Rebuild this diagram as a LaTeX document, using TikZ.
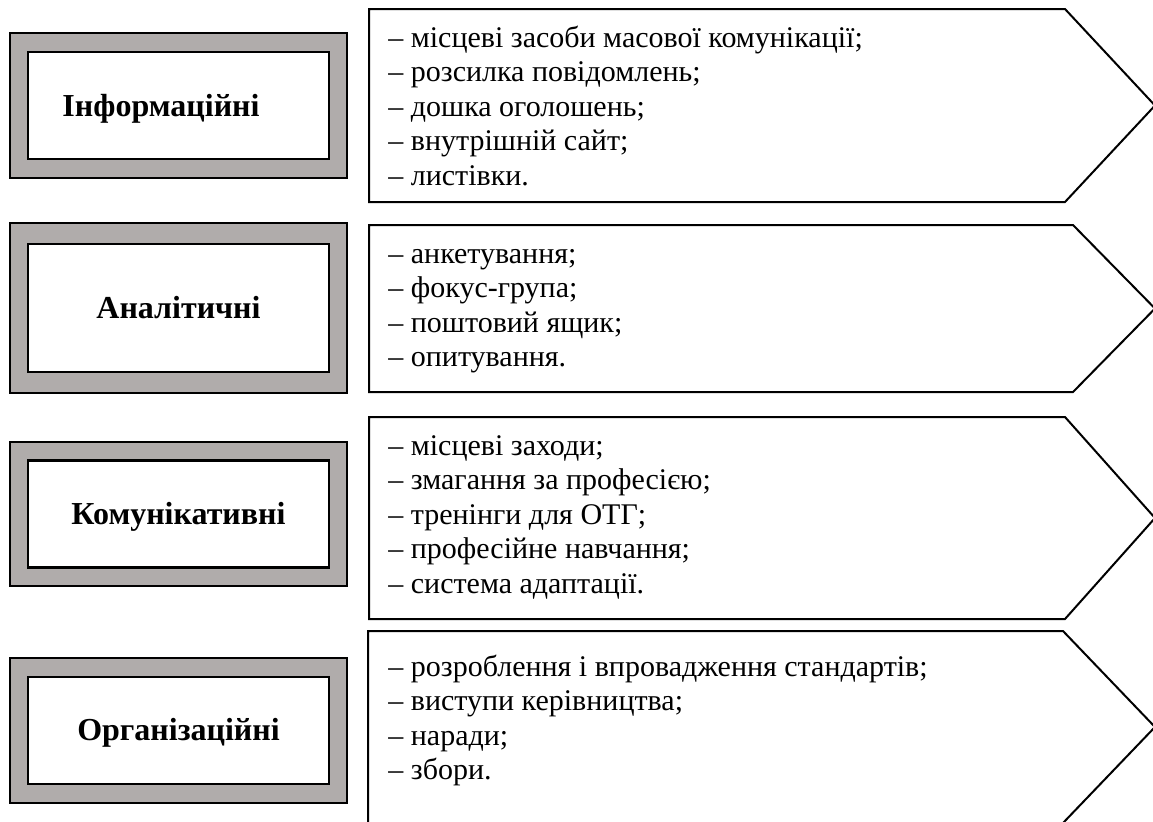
\documentclass[tikz,border=0pt]{standalone}
\usepackage{fontspec}
\setmainfont{Liberation Serif}
\definecolor{framegray}{RGB}{176,172,171}

\begin{document}
\begin{tikzpicture}[x=0.5pt, y=-0.5pt,
    outerbox/.style={draw, line width=1.2pt, fill=framegray, inner sep=0pt, minimum width=168.5pt, minimum height=72.5pt},
    innerbox/.style={draw, line width=1.2pt, fill=white, inner sep=0pt, minimum width=150.5pt, minimum height=53.5pt},
    title/.style={font=\fontsize{16}{19}\selectfont\bfseries, inner sep=0pt, anchor=base},
    item/.style={font=\fontsize{15}{18}\selectfont, inner sep=0pt, anchor=base west},
    pointer/.style={draw, line width=1pt, line join=miter}]
  \useasboundingbox (0,0) rectangle (1153,821);

  % Інформаційні
  \node[outerbox] (info) at (178.5,105.5) {};
  \node[innerbox] (infoin) at (info.center) {};
  \node[title] (infot) at (161,116) {Інформаційні};
  \draw[pointer] (369,9) -- (1065,9) -- (1155,105.5) -- (1065,202) -- (369,202) -- cycle;
  \foreach \t [count=\i from 0] in {– місцеві засоби масової комунікації;, – розсилка повідомлень;, – дошка оголошень;, – внутрішній сайт;, – листівки.}
    \node[item] (infoitem\i) at (388,{47+34.5*\i}) {\t};

  % Аналітичні
  \node[outerbox, minimum height=85pt] (anal) at (178.5,308) {};
  \node[innerbox, minimum height=64pt] (analin) at (anal.center) {};
  \node[title] (analt) at (178.5,318.5) {Аналітичні};
  \draw[pointer] (369,225) -- (1073,225) -- (1155,308.5) -- (1073,392) -- (369,392) -- cycle;
  \foreach \t [count=\i from 0] in {– анкетування;, – фокус-група;, – поштовий ящик;, – опитування.}
    \node[item] (analitem\i) at (388,{263+34.5*\i}) {\t};

  % Комунікативні
  \node[outerbox, minimum height=72pt] (comm) at (178.5,514) {};
  \node[innerbox] (commin) at (comm.center) {};
  \node[title] (commt) at (178.5,524.5) {Комунікативні};
  \draw[pointer] (369,417) -- (1065,417) -- (1155,518) -- (1065,619) -- (369,619) -- cycle;
  \foreach \t [count=\i from 0] in {– місцеві заходи;, – змагання за професією;, – тренінги для ОТГ;, – професійне навчання;, – система адаптації.}
    \node[item] (commitem\i) at (388,{455+34.5*\i}) {\t};

  % Організаційні
  \node[outerbox] (org) at (178.5,730.5) {};
  \node[innerbox] (orgin) at (org.center) {};
  \node[title] (orgt) at (178.5,740.5) {Організаційні};
  \draw[pointer] (368,631) -- (1063,631) -- (1155,727) -- (1063,823) -- (368,823) -- cycle;
  \foreach \t [count=\i from 0] in {– розроблення і впровадження стандартів;, – виступи керівництва;, – наради;, – збори.}
    \node[item] (orgitem\i) at (388,{676+34.5*\i}) {\t};
\end{tikzpicture}
\end{document}
